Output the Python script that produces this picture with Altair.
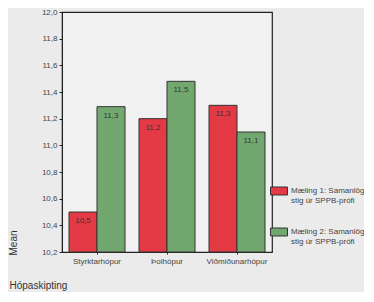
import altair as alt
import pandas as pd

groups = ["Styrktarhópur", "Þolhópur", "Viðmiðunarhópur"]
series = ["Mæling 1: Samanlögð stig úr SPPB-prófi", "Mæling 2: Samanlögð stig úr SPPB-prófi"]
mean_1 = [10.50, 11.20, 11.30]
mean_2 = [11.29, 11.48, 11.10]
y_ticks = [10.2, 10.4, 10.6, 10.8, 11.0, 11.2, 11.4, 11.6, 11.8, 12.0]

rows = []
for g, a, b in zip(groups, mean_1, mean_2):
    rows.append({"group": g, "series": series[0], "mean": a})
    rows.append({"group": g, "series": series[1], "mean": b})
df = pd.DataFrame(rows)
df["label"] = df["mean"].map(lambda v: f"{v:.1f}".replace(".", ","))

FONT = "Liberation Sans"

x = alt.X("group:N", sort=groups,
          scale=alt.Scale(paddingInner=0.2, paddingOuter=0.1),
          axis=alt.Axis(title="Hópaskipting", labelAngle=0, labelFontSize=8,
                        labelColor="#444", labelPadding=3, tickSize=2, tickColor="#222",
                        domain=False, titleFontSize=10, titleFontWeight="normal",
                        titleColor="#333", titleAnchor="start", titleAlign="left",
                        titleX=-53, titleY=33, titleBaseline="middle"))
y = alt.Y("mean:Q", scale=alt.Scale(domain=[10.2, 12.0], zero=False, nice=False),
          axis=alt.Axis(title="Mean", values=y_ticks, labelOverlap=False, labelFlush=False,
                        labelBound=False,
                        labelExpr="replace(format(datum.value, '.1f'), '.', ',')",
                        labelFontSize=8, labelColor="#444", tickSize=3, tickColor="#222",
                        domainColor="#222", grid=False, titleFontSize=10,
                        titleFontWeight="normal", titleColor="#333", titleAngle=270,
                        titleAnchor="start", titleAlign="left", titleBaseline="bottom",
                        titleX=-44, titleY=243))
xo = alt.XOffset("series:N", sort=series, scale=alt.Scale(paddingInner=0.0))

base = alt.Chart(df).encode(x=x, xOffset=xo, y=y)

bars = base.mark_bar(stroke="#333", strokeWidth=1).encode(
    y2=alt.datum(10.2),
    color=alt.Color("series:N", sort=series,
                    scale=alt.Scale(domain=series, range=["#e43a45", "#72a86f"]),
                    legend=alt.Legend(title=None, orient="none", legendX=208, legendY=170,
                                      symbolType="M-1,-0.47H1V0.47H-1Z", symbolSize=289,
                                      symbolStrokeColor="#333", symbolStrokeWidth=1,
                                      symbolOpacity=1,
                                      labelFontSize=8, labelColor="#444", labelLimit=300,
                                      labelOffset=3,
                                      labelExpr="[slice(datum.label, 0, 19), slice(datum.label, 20)]",
                                      rowPadding=18)),
)

labels = base.mark_text(fontSize=8, color="#333", baseline="middle", dy=9,
                        font=FONT).encode(text="label:N")

chart = (bars + labels).properties(
    width=210, height=240,
    autosize=alt.AutoSizeParams(type="none"),
    padding={"left": 54, "top": 4, "right": 92, "bottom": 40},
    background="#ebebeb",
).configure(font=FONT).configure_view(stroke="#222", strokeWidth=1.2, fill="#f1f1f1")

chart.save("out.html", embed_options={"renderer": "svg", "actions": False})
